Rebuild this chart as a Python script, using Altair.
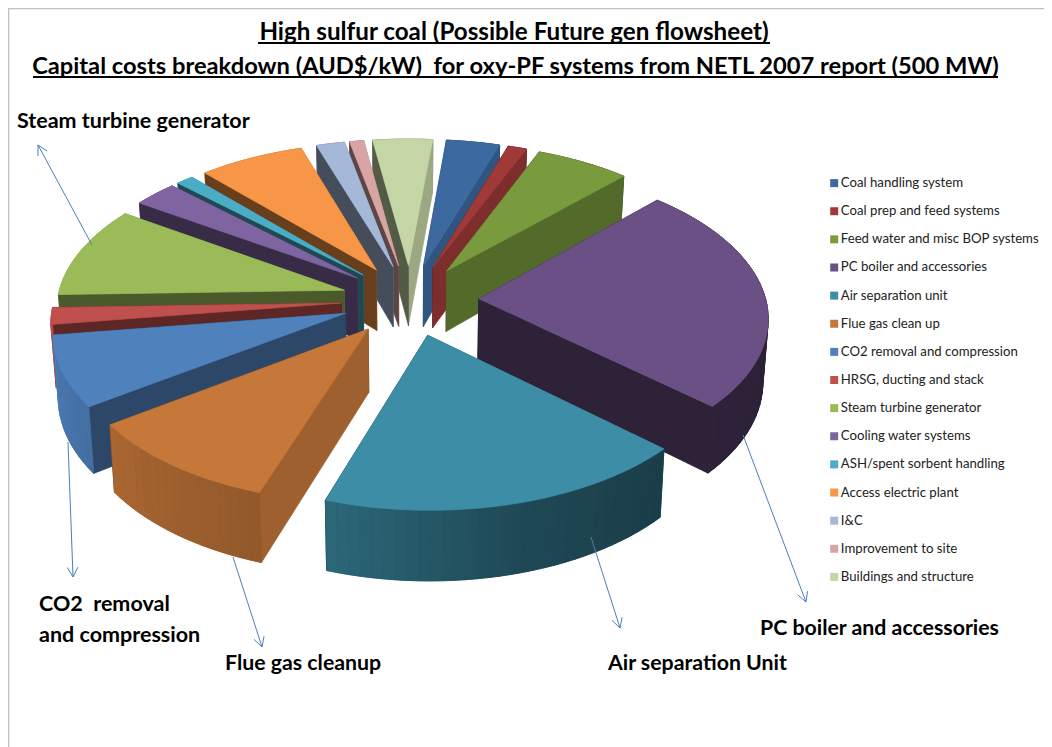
import math
import altair as alt

# ---- chart data (shares of capital cost, %)
names = ["Coal handling system", "Coal prep and feed systems", "Feed water and misc BOP systems",
         "PC boiler and accessories", "Air separation unit", "Flue gas clean up",
         "CO2 removal and compression", "HRSG, ducting and stack", "Steam turbine generator",
         "Cooling water systems", "ASH/spent sorbent handling", "Access electric plant",
         "I&C", "Improvement to site", "Buildings and structure"]
values = [3.4, 1.2, 6.0, 24.7, 18.3, 10.0, 7.6, 1.8, 9.9, 2.8, 1.1, 6.7, 1.8, 0.9, 3.8]
colors = ["#3C6AA0", "#A03A38", "#7A9A3E", "#6A5084", "#3C8DA5", "#C6783A", "#4F81BD", "#C0504D",
          "#9BBB59", "#8064A2", "#4BACC6", "#F79646", "#A5B8D8", "#D9A5A4", "#C5D6A6"]

# ---- 3D pie look
W, H = 1036, 739
OFF = 8
CX, CY = 410 - OFF, 300 - OFF
RX, RY, PERSP = 287.0, 147.5, 0.11
EXPLODE = 0.24
START = 5.5
SHRINK = 0.985

wall_light = [(0, .7), (45, .62), (90, .42), (131, .43), (165, .52), (199, .74), (236, .86), (263, .97), (300, .9), (360, .7)]
cut_light = [(0, .7), (90, .78), (108, .8), (135, .68), (146, .53), (180, .48), (221, .42), (263, .42), (360, .42)]


def lerp(tbl, a):
    a %= 360
    for (x0, y0), (x1, y1) in zip(tbl, tbl[1:]):
        if x0 <= a <= x1:
            return y0 + (y1 - y0) * (a - x0) / (x1 - x0)
    return tbl[-1][1]


def shade(hexc, f):
    r, g, b = (int(hexc[i:i + 2], 16) for i in (1, 3, 5))
    return "#%02x%02x%02x" % (round(r * f), round(g * f), round(b * f))


def top(u, v):
    s = 1 / (1 - PERSP * v)
    return CX + RX * u * s, CY + RY * v * s


def bot(u, v):
    x, y = top(u, v)
    return CX + (x - CX) * SHRINK, y + 62 + 7 * v


def poly(pts, fill):
    ring = [list(p) for p in pts] + [list(pts[0])]
    return {"type": "Feature", "properties": {"fill": fill}, "geometry": {"type": "Polygon", "coordinates": [ring]}}


total = sum(values)
sectors, a = [], START
for n, val, col in zip(names, values, colors):
    span = 360 * val / total
    sectors.append((a, a + span, col))
    a += span
sectors.sort(key=lambda s: -math.cos(math.radians((s[0] + s[1]) / 2)))

features = []
for a0, a1, col in sectors:
    mid = math.radians((a0 + a1) / 2)
    au, av = EXPLODE * math.sin(mid), -EXPLODE * math.cos(mid)
    steps = max(2, int((a1 - a0) / 2))
    rim = []
    for i in range(steps + 1):
        t = math.radians(a0 + (a1 - a0) * i / steps)
        rim.append((au + math.sin(t), av - math.cos(t)))
    # solid wall underneath the shaded strips, so no seams show through
    features.append(poly([top(*p) for p in rim] + [bot(*p) for p in reversed(rim)],
                         shade(col, lerp(wall_light, (a0 + a1) / 2))))
    sides = []
    for p, n_ang in ((rim[0], a0 - 90), (rim[-1], a1 + 90)):
        quad = [top(au, av), top(*p), bot(*p), bot(au, av)]
        sides.append((sum(q[1] for q in quad) / 4, poly(quad, shade(col, lerp(cut_light, n_ang)))))
    for i in range(steps):
        quad = [top(*rim[i]), top(*rim[i + 1]), bot(*rim[i + 1]), bot(*rim[i])]
        ang = a0 + (a1 - a0) * (i + .5) / steps
        sides.append((sum(q[1] for q in quad) / 4, poly(quad, shade(col, lerp(wall_light, ang)))))
    sides.sort(key=lambda s: s[0])
    features += [s[1] for s in sides]
    features.append(poly([top(au, av)] + [top(*p) for p in rim], col))

pie = alt.Chart(alt.InlineData(values={"type": "FeatureCollection", "features": features},
                               format=alt.DataFormat(property="features", type="json"))).mark_geoshape(strokeWidth=0.7).encode(
    color=alt.Color("properties.fill:N", scale=None, legend=None),
    stroke=alt.Stroke("properties.fill:N", scale=None, legend=None),
).project(type="identity", scale=1, translate=[0, 0])

X = alt.Scale(domain=[0, W], range=[0, W])
Y = alt.Scale(domain=[0, H], range=[0, H])
xe = alt.X("x:Q", scale=X, axis=None)
ye = alt.Y("y:Q", scale=Y, axis=None)

# ---- text, in picture pixels
labels = [
    ("High sulfur coal (Possible Future gen flowsheet)", 514, 39.5, "center", 24.2),
    ("Capital costs breakdown (AUD$/kW)\u00a0 for oxy-PF systems from NETL 2007 report (500 MW)", 515.5, 74, "center", 23.7),
    ("Steam turbine generator", 17, 128, "left", 21.5),
    ("CO2\u00a0 removal", 39, 611, "left", 21.5),
    ("and compression", 39, 642, "left", 21.5),
    ("Flue gas cleanup", 225, 670, "left", 21.3),
    ("Air separation Unit", 608, 670, "left", 21.3),
    ("PC boiler and accessories", 760, 635, "left", 21.3),
]
text_rows = [{"t": t, "x": x - OFF, "y": y - OFF, "al": al, "fs": fs} for t, x, y, al, fs in labels]
texts = []
for al in ("left", "center"):
    texts.append(alt.Chart(alt.Data(values=[r for r in text_rows if r["al"] == al])).mark_text(
        font="Lato", fontWeight="bold", align=al, baseline="alphabetic", color="#000000").encode(
        x=xe, y=ye, text="t:N", size=alt.Size("fs:Q", scale=None, legend=None)))

under = [(258, 770, 43), (33, 998, 77)]
under_rows = [{"x": a - OFF, "x2": b - OFF, "y": y - OFF} for a, b, y in under]
underline = alt.Chart(alt.Data(values=under_rows)).mark_rule(color="#000000", strokeWidth=2).encode(x=xe, x2="x2:Q", y=ye)

border_rows = [{"x": 0, "x2": W, "y": 0.5}]
border_h = alt.Chart(alt.Data(values=border_rows)).mark_rule(color="#BFBFBF", strokeWidth=1.5).encode(x=xe, x2="x2:Q", y=ye)
border_v = alt.Chart(alt.Data(values=[{"x": 0.5, "y": 0, "y2": H}])).mark_rule(color="#BFBFBF", strokeWidth=1.5).encode(x=xe, y=ye, y2="y2:Q")

# ---- arrows
arrows = [((92, 245), (38, 145)), ((68, 442), (73, 577)), ((233, 557), (262, 647)), ((591, 537), (620, 628)), ((743, 435), (806, 602))]
arrow_rows = []
for k, ((x0, y0), (x1, y1)) in enumerate(arrows):
    ang = math.atan2(y1 - y0, x1 - x0)
    pts = [(x0, y0), (x1, y1)]
    head = [(x1 - 11 * math.cos(ang - .5), y1 - 11 * math.sin(ang - .5)), (x1, y1),
            (x1 - 11 * math.cos(ang + .5), y1 - 11 * math.sin(ang + .5))]
    for i, (x, y) in enumerate(pts):
        arrow_rows.append({"x": x - OFF, "y": y - OFF, "g": f"s{k}", "i": i})
    for i, (x, y) in enumerate(head):
        arrow_rows.append({"x": x - OFF, "y": y - OFF, "g": f"h{k}", "i": i})
arrow = alt.Chart(alt.Data(values=arrow_rows)).mark_line(color="#4A7EBB", strokeWidth=1).encode(
    x=xe, y=ye, detail="g:N", order="i:Q")

# ---- legend
legend = alt.Chart(alt.Data(values=[{"name": n} for n in names])).mark_square(size=64, opacity=0).encode(
    x=alt.value(0), y=alt.value(0),
    color=alt.Color("name:N", sort=names, scale=alt.Scale(domain=names, range=colors),
                    legend=alt.Legend(title=None, orient="none", legendX=819.6, legendY=168.5, symbolType="square",
                                      symbolSize=64, symbolOpacity=1, symbolStrokeWidth=0, labelFont="Lato",
                                      labelFontSize=13.2, labelColor="#222222", labelLimit=300, labelOffset=0,
                                      rowPadding=14.13, padding=0)))

chart = alt.layer(border_h, border_v, pie, *texts, underline, arrow, legend).properties(
    width=W, height=H, padding=0, autosize=alt.AutoSizeParams(type="none"),
).resolve_scale(color="independent").configure_view(stroke=None)

chart.save("out.html", embed_options={"renderer": "svg", "actions": False})
